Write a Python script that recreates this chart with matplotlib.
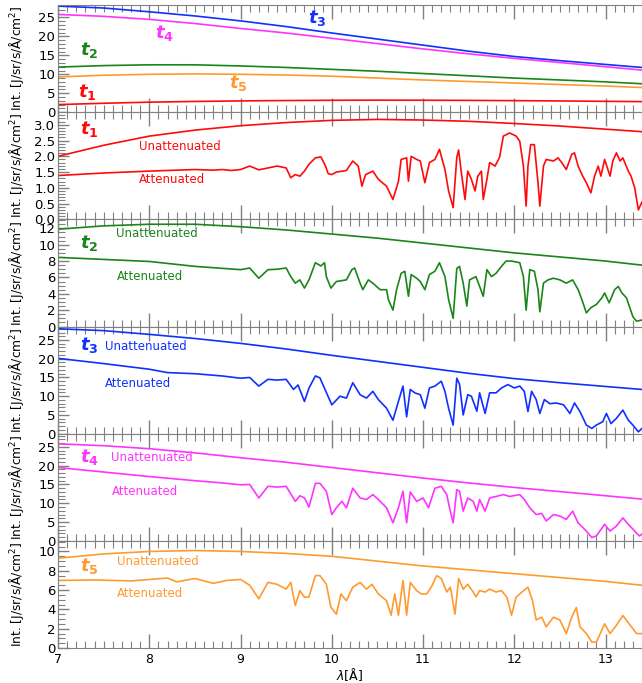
import matplotlib
matplotlib.use("Agg")
import matplotlib.pyplot as plt
from matplotlib.ticker import MultipleLocator

plt.rcParams['font.family'] = ['DejaVu Sans']

# smooth (unattenuated) curves, read at these wavelengths
lam = [7.0, 7.5, 8.0, 8.5, 9.0, 9.5, 10.0, 10.5, 11.0, 11.5, 12.0, 12.5, 13.0, 13.4]
un_t1 = [2.0, 2.35, 2.64, 2.83, 2.97, 3.07, 3.14, 3.17, 3.15, 3.11, 3.04, 2.96, 2.86, 2.78]
un_t2 = [11.9, 12.3, 12.5, 12.5, 12.2, 11.8, 11.3, 10.8, 10.2, 9.6, 9.0, 8.5, 8.0, 7.5]
un_t3 = [28.0, 27.5, 26.5, 25.4, 24.1, 22.6, 20.9, 19.3, 17.7, 16.1, 14.7, 13.6, 12.6, 11.8]
un_t4 = [25.8, 25.3, 24.5, 23.4, 22.1, 20.9, 19.5, 18.1, 16.7, 15.4, 14.2, 13.1, 12.0, 11.1]
un_t5 = [9.3, 9.75, 10.0, 10.1, 10.0, 9.8, 9.5, 9.0, 8.5, 8.1, 7.7, 7.3, 6.9, 6.5]

# attenuated spectra
lam_a1 = [7.0, 7.5, 8.0, 8.5, 8.7, 8.8, 8.9, 9.0, 9.1, 9.2, 9.3, 9.4, 9.5, 9.55, 9.6, 9.65, 9.7,
          9.75, 9.82, 9.88, 9.93, 9.96, 10.0, 10.05, 10.12, 10.16, 10.23, 10.29, 10.33, 10.37, 10.45,
          10.51, 10.6, 10.67, 10.73, 10.76, 10.82, 10.84, 10.87, 10.93, 10.97, 11.02, 11.07, 11.13,
          11.18, 11.24, 11.28, 11.33, 11.37, 11.39, 11.42, 11.46, 11.49, 11.53, 11.57, 11.6, 11.64,
          11.66, 11.7, 11.73, 11.79, 11.84, 11.88, 11.95, 12.02, 12.06, 12.1, 12.13, 12.15, 12.18,
          12.22, 12.26, 12.28, 12.32, 12.35, 12.43, 12.48, 12.52, 12.57, 12.63, 12.66, 12.7, 12.75,
          12.79, 12.84, 12.88, 12.92, 12.95, 12.99, 13.05, 13.08, 13.12, 13.16, 13.19, 13.25, 13.28,
          13.32, 13.36, 13.4]
at_t1 = [1.39, 1.47, 1.53, 1.58, 1.56, 1.58, 1.55, 1.58, 1.69, 1.57, 1.63, 1.69, 1.63, 1.32, 1.42,
         1.37, 1.53, 1.75, 1.95, 1.98, 1.70, 1.45, 1.42, 1.50, 1.53, 1.55, 1.85, 1.69, 1.05, 1.42,
         1.53, 1.27, 1.05, 0.63, 1.20, 1.90, 1.95, 1.21, 2.0, 1.90, 1.85, 1.16, 1.80, 1.90, 2.22,
         1.58, 0.90, 0.37, 1.97, 2.2, 1.48, 0.63, 1.53, 1.27, 0.90, 1.37, 1.53, 0.63, 1.27, 1.80,
         1.69, 1.98, 2.64, 2.74, 2.64, 2.48, 1.69, 0.42, 1.69, 2.37, 2.37, 1.16, 0.42, 1.69, 1.90,
         1.85, 1.95, 1.80, 1.58, 2.06, 2.11, 1.69, 1.37, 1.16, 0.84, 1.37, 1.69, 1.37, 1.90, 1.37,
         1.85, 2.11, 1.85, 1.95, 1.53, 1.37, 1.0, 0.30, 0.55]

lam_a2 = [7.0, 7.5, 8.0, 8.5, 9.0, 9.1, 9.2, 9.3, 9.4, 9.5, 9.55, 9.6, 9.65, 9.7, 9.75, 9.82, 9.88,
          9.92, 9.94, 9.99, 10.05, 10.16, 10.22, 10.25, 10.31, 10.34, 10.4, 10.45, 10.53, 10.6, 10.62,
          10.67, 10.71, 10.76, 10.8, 10.84, 10.87, 10.93, 10.97, 11.02, 11.07, 11.13, 11.18, 11.24,
          11.28, 11.33, 11.37, 11.4, 11.44, 11.48, 11.51, 11.58, 11.66, 11.7, 11.75, 11.8, 11.86,
          11.91, 11.97, 12.06, 12.1, 12.13, 12.17, 12.22, 12.26, 12.28, 12.32, 12.37, 12.43, 12.5,
          12.57, 12.64, 12.7, 12.75, 12.79, 12.84, 12.9, 12.96, 12.99, 13.04, 13.1, 13.14, 13.18,
          13.23, 13.26, 13.3, 13.34, 13.4]
at_t2 = [8.45, 8.2, 7.95, 7.35, 6.95, 7.15, 5.9, 6.95, 7.0, 7.15, 6.1, 5.3, 5.7, 4.7, 5.7, 7.8, 7.4,
         7.8, 6.1, 4.7, 5.5, 5.7, 6.95, 7.15, 5.3, 4.5, 5.7, 5.3, 4.5, 4.5, 3.3, 2.0, 4.5, 6.5, 6.75,
         3.7, 6.35, 5.9, 5.5, 4.5, 6.35, 6.75, 7.8, 6.1, 3.3, 1.0, 7.1, 7.35, 5.3, 2.5, 5.7, 6.1, 3.7,
         6.95, 6.1, 6.5, 7.35, 8.0, 8.0, 7.8, 6.1, 2.0, 6.95, 6.75, 4.5, 1.8, 5.3, 5.7, 5.9, 5.7, 5.3,
         5.7, 4.5, 3.0, 1.67, 2.3, 2.7, 3.5, 4.1, 2.9, 4.5, 4.9, 4.1, 3.5, 2.5, 1.2, 0.65, 0.8]

lam_a3 = [7.0, 7.5, 8.0, 8.2, 8.5, 8.8, 9.0, 9.1, 9.2, 9.3, 9.4, 9.5, 9.58, 9.63, 9.7, 9.75, 9.82,
          9.87, 9.94, 10.0, 10.09, 10.16, 10.23, 10.31, 10.38, 10.45, 10.51, 10.6, 10.67, 10.73,
          10.78, 10.82, 10.86, 10.91, 10.97, 11.02, 11.07, 11.13, 11.2, 11.24, 11.28, 11.33, 11.37,
          11.4, 11.44, 11.49, 11.53, 11.59, 11.62, 11.68, 11.73, 11.8, 11.86, 11.93, 12.0, 12.06,
          12.11, 12.15, 12.19, 12.24, 12.28, 12.33, 12.39, 12.46, 12.54, 12.61, 12.66, 12.72, 12.79,
          12.85, 12.9, 12.97, 13.01, 13.06, 13.12, 13.19, 13.25, 13.3, 13.36, 13.4]
at_t3 = [20.1, 18.7, 17.2, 16.3, 16.0, 15.4, 14.8, 15.0, 12.7, 14.5, 14.3, 14.5, 11.8, 13.0, 8.6,
         12.2, 15.4, 14.9, 11.0, 7.7, 10.0, 9.5, 13.6, 10.4, 9.5, 11.3, 9.1, 6.8, 3.6, 8.6, 12.7, 4.5,
         11.8, 10.9, 10.4, 6.8, 12.2, 12.7, 14.0, 11.3, 6.8, 2.3, 14.8, 13.2, 5.0, 10.4, 10.0, 6.0,
         10.9, 5.4, 10.9, 10.9, 12.2, 13.1, 12.2, 12.7, 11.3, 5.9, 11.3, 9.1, 5.4, 9.1, 8.0, 8.2, 7.7,
         5.4, 8.2, 5.9, 2.3, 1.4, 2.3, 3.2, 5.4, 2.7, 4.1, 6.3, 3.6, 2.3, 0.5, 1.4]

lam_a4 = [7.0, 7.5, 8.0, 8.5, 8.8, 9.0, 9.1, 9.2, 9.3, 9.4, 9.5, 9.6, 9.65, 9.7, 9.75, 9.82, 9.87,
          9.94, 10.0, 10.05, 10.11, 10.16, 10.23, 10.31, 10.38, 10.45, 10.51, 10.6, 10.67, 10.73,
          10.78, 10.82, 10.86, 10.93, 11.0, 11.06, 11.13, 11.2, 11.26, 11.29, 11.33, 11.37, 11.4,
          11.44, 11.49, 11.55, 11.59, 11.62, 11.68, 11.73, 11.8, 11.88, 11.95, 12.06, 12.11, 12.17,
          12.24, 12.3, 12.35, 12.43, 12.5, 12.57, 12.64, 12.7, 12.79, 12.85, 12.9, 12.99, 13.05,
          13.12, 13.19, 13.25, 13.32, 13.37, 13.4]
at_t4 = [19.5, 18.3, 17.1, 16.0, 15.4, 14.9, 15.0, 11.4, 14.5, 14.3, 14.5, 10.5, 12.0, 11.4, 9.0,
         15.3, 15.3, 13.2, 7.0, 8.8, 10.5, 8.8, 14.0, 11.4, 11.0, 12.3, 11.0, 8.8, 4.8, 8.8, 13.2, 4.8,
         13.0, 10.5, 11.4, 8.8, 14.0, 14.5, 12.3, 8.8, 4.8, 13.6, 13.2, 7.9, 11.4, 10.5, 7.9, 11.0,
         7.9, 11.4, 11.8, 12.3, 11.8, 12.3, 11.0, 8.8, 7.0, 7.3, 5.3, 7.0, 6.6, 5.7, 7.9, 4.8, 2.6,
         0.9, 1.3, 4.4, 2.6, 3.95, 6.1, 4.4, 2.6, 1.3, 1.8]

lam_a5 = [7.0, 7.4, 7.8, 8.0, 8.2, 8.3, 8.5, 8.7, 8.85, 9.0, 9.1, 9.2, 9.3, 9.4, 9.5, 9.55, 9.6,
          9.65, 9.7, 9.75, 9.82, 9.87, 9.94, 9.99, 10.05, 10.1, 10.16, 10.23, 10.31, 10.38, 10.44,
          10.51, 10.6, 10.65, 10.69, 10.73, 10.78, 10.82, 10.86, 10.93, 10.98, 11.04, 11.09, 11.15,
          11.2, 11.26, 11.3, 11.35, 11.39, 11.44, 11.49, 11.55, 11.58, 11.62, 11.68, 11.73, 11.8,
          11.86, 11.92, 11.97, 12.02, 12.08, 12.15, 12.2, 12.24, 12.3, 12.35, 12.43, 12.5, 12.57,
          12.63, 12.68, 12.72, 12.79, 12.85, 12.9, 12.99, 13.05, 13.12, 13.19, 13.26, 13.34, 13.4]
at_t5 = [7.0, 7.05, 6.95, 7.1, 7.25, 6.85, 7.2, 6.7, 7.0, 7.1, 6.5, 5.1, 6.8, 6.6, 6.1, 6.8, 4.4,
         5.95, 5.26, 5.3, 7.5, 7.5, 6.6, 4.23, 3.5, 5.6, 4.9, 6.3, 6.8, 6.1, 6.6, 5.6, 4.9, 3.4, 5.6,
         3.4, 7.0, 3.4, 6.8, 5.95, 5.6, 5.6, 6.3, 7.5, 7.2, 5.8, 6.3, 3.5, 7.2, 6.1, 6.6, 5.8, 5.3,
         5.95, 5.8, 6.1, 5.8, 5.95, 5.26, 3.4, 5.26, 5.77, 6.3, 4.9, 2.9, 3.2, 2.2, 3.2, 2.9, 1.5, 3.2,
         4.2, 2.2, 1.5, 0.62, 0.62, 2.5, 1.5, 2.36, 3.37, 2.5, 1.5, 1.5]

colors = ['#ff0a0a', '#1a851a', '#1030ff', '#ff33ff', '#ff9a2e']
unatt = [un_t1, un_t2, un_t3, un_t4, un_t5]
att_lam = [lam_a1, lam_a2, lam_a3, lam_a4, lam_a5]
att = [at_t1, at_t2, at_t3, at_t4, at_t5]
names = ['1', '2', '3', '4', '5']

# panel settings
ylims = [(0, 28.3), (0, 3.4), (0, 13.1), (0, 28.6), (0, 28.5), (0, 11.1)]
ymajor = [5, 0.5, 2, 5, 5, 2]
yminor = [1, 0.1, 0.5, 1, 1, 0.5]
yfmt = ['%d', '%.1f', '%d', '%d', '%d', '%d']

# label positions (data coords)
top_lbl = [(7.22, 5.3), (7.24, 16.4), (9.74, 24.8), (8.06, 20.9), (8.87, 7.7)]
t_lbl = [(7.24, 2.85), (7.24, 10.2), (7.24, 23.6), (7.24, 22.4), (7.24, 8.5)]
un_lbl = [(7.89, 2.30), (7.64, 11.4), (7.51, 23.3), (7.58, 22.1), (7.65, 9.0)]
at_lbl = [(7.89, 1.25), (7.64, 6.1), (7.51, 13.4), (7.59, 13.0), (7.65, 5.6)]

fig, axes = plt.subplots(6, 1, figsize=(6.42, 6.83), dpi=100, sharex=True)
fig.subplots_adjust(left=0.0905, right=1.0, top=0.9927, bottom=0.0512, hspace=0)

grey = '#808080'
for i, ax in enumerate(axes):
    ax.set_xlim(7, 13.4)
    ax.set_ylim(*ylims[i])
    ax.xaxis.set_major_locator(MultipleLocator(1))
    ax.xaxis.set_minor_locator(MultipleLocator(0.1))
    ax.yaxis.set_major_locator(MultipleLocator(ymajor[i]))
    ax.yaxis.set_minor_locator(MultipleLocator(yminor[i]))
    ax.yaxis.set_major_formatter(matplotlib.ticker.FormatStrFormatter(yfmt[i]))
    ax.tick_params(axis='x', which='both', direction='in', top=True, bottom=True, colors=grey,
                   labelcolor='black', labelsize=9)
    ax.tick_params(axis='x', which='major', length=10, width=1)
    ax.tick_params(axis='x', which='minor', length=5, width=0.8)
    ax.tick_params(axis='y', which='both', direction='in', right=False, colors=grey,
                   labelcolor='black', labelsize=9.5, pad=2)
    ax.tick_params(axis='y', which='major', length=8, width=1)
    ax.tick_params(axis='y', which='minor', length=5, width=0.8)
    for s in ['top', 'bottom', 'left']:
        ax.spines[s].set_color(grey)
    ax.spines['right'].set_visible(False)
    ax.set_ylabel('Int. [J/sr/s/Å/cm$^2$]', fontsize=8.8)
    ax.yaxis.set_label_coords(-0.055, 0.5)

# first panel: all unattenuated curves
ax = axes[0]
for k in range(5):
    ax.plot(lam, unatt[k], color=colors[k], lw=1.2)
    ax.text(top_lbl[k][0], top_lbl[k][1], r'$\mathbfit{t}_\mathbf{%s}$' % names[k],
            color=colors[k], fontsize=13, va='center')

for k in range(5):
    ax = axes[k + 1]
    ax.plot(lam, unatt[k], color=colors[k], lw=1.2)
    ax.plot(att_lam[k], att[k], color=colors[k], lw=1.2)
    ax.text(t_lbl[k][0], t_lbl[k][1], r'$\mathbfit{t}_\mathbf{%s}$' % names[k],
            color=colors[k], fontsize=13, va='center')
    ax.text(un_lbl[k][0], un_lbl[k][1], 'Unattenuated', color=colors[k], fontsize=8.5, va='center')
    ax.text(at_lbl[k][0], at_lbl[k][1], 'Attenuated', color=colors[k], fontsize=8.5, va='center')

axes[-1].set_xlabel(r'$\lambda$[Å]', fontsize=9, labelpad=0)

fig.savefig('out.png', dpi=100)
